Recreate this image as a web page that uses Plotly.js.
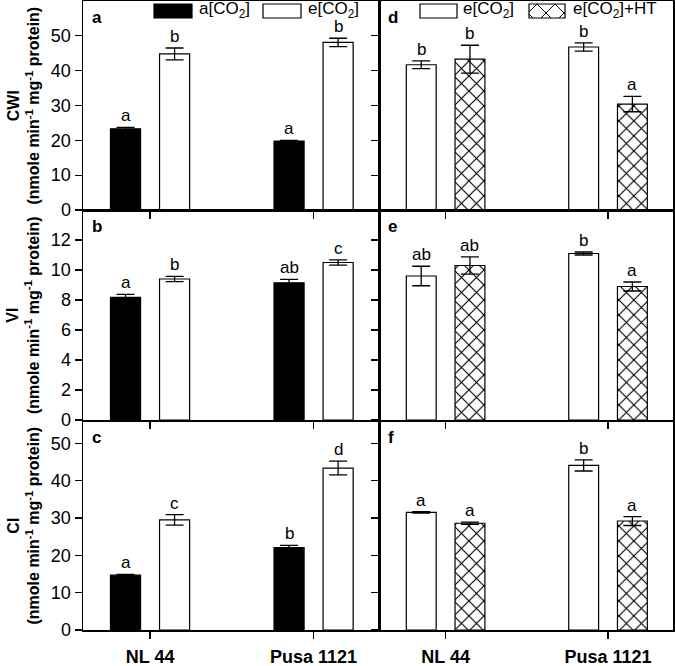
<!DOCTYPE html>
<html>
<head>
<meta charset="utf-8">
<script src="https://cdn.plot.ly/plotly-3.0.1.min.js"></script>
<style>html,body{margin:0;padding:0;background:#fff;}#chart{width:675px;height:666px;}</style>
</head>
<body>
<div id="chart"></div>
<script>
// ---------- data ----------
const categories = ['NL 44', 'Pusa 1121'];

// Left column: a[CO2] vs e[CO2]
const cwiAmb = [23.3, 19.8];   const cwiAmbErr = [0.4, 0.2];
const cwiEle = [44.8, 48.1];   const cwiEleErr = [1.7, 1.2];
const viAmb  = [8.18, 9.15];   const viAmbErr  = [0.2, 0.22];
const viEle  = [9.4, 10.5];    const viEleErr  = [0.17, 0.18];
const ciAmb  = [14.7, 22.1];   const ciAmbErr  = [0.2, 0.55];
const ciEle  = [29.5, 43.4];   const ciEleErr  = [1.4, 1.85];

// Right column: e[CO2] vs e[CO2]+HT
const cwiEle2 = [41.7, 46.8];  const cwiEle2Err = [1.1, 1.2];
const cwiHT   = [43.3, 30.4];  const cwiHTErr   = [4.0, 2.2];
const viEle2  = [9.6, 11.1];   const viEle2Err  = [0.65, 0.1];
const viHT    = [10.3, 8.9];   const viHTErr    = [0.58, 0.3];
const ciEle2  = [31.5, 44.1];  const ciEle2Err  = [0.2, 1.5];
const ciHT    = [28.6, 29.2];  const ciHTErr    = [0.3, 1.2];

// significance letters
const lettersA = [['a','a'], ['b','b']];
const lettersB = [['a','ab'], ['b','c']];
const lettersC = [['a','b'], ['c','d']];
const lettersD = [['b','b'], ['b','a']];
const lettersE = [['ab','b'], ['ab','a']];
const lettersF = [['a','b'], ['a','a']];

const panelLetters = ['a','d','b','e','c','f'];
const yTitles = ['CWI', 'VI', 'CI'];
const yRanges = [[0,60],[0,14],[0,56]];
const yTickVals = [[0,10,20,30,40,50], [0,2,4,6,8,10,12], [0,10,20,30,40,50]];

// ---------- geometry / styles ----------
const W = 675, H = 666;
const FONT = 'Liberation Sans, Arial, sans-serif';
const px = x => x / W;
const py = y => 1 - y / H;
const colDomains = [[px(83), px(379)], [px(379), px(673)]];
const rowDomains = [[py(210), py(1)], [py(420), py(210)], [py(630), py(421)]];
const BARGAP = 0.4;

const panels = [
  {row:0,col:0, s:[[cwiAmb,cwiAmbErr],[cwiEle,cwiEleErr]], kinds:['amb','ele'], L:lettersA},
  {row:0,col:1, s:[[cwiEle2,cwiEle2Err],[cwiHT,cwiHTErr]], kinds:['ele','ht'], L:lettersD},
  {row:1,col:0, s:[[viAmb,viAmbErr],[viEle,viEleErr]], kinds:['amb','ele'], L:lettersB},
  {row:1,col:1, s:[[viEle2,viEle2Err],[viHT,viHTErr]], kinds:['ele','ht'], L:lettersE},
  {row:2,col:0, s:[[ciAmb,ciAmbErr],[ciEle,ciEleErr]], kinds:['amb','ele'], L:lettersC},
  {row:2,col:1, s:[[ciEle2,ciEle2Err],[ciHT,ciHTErr]], kinds:['ele','ht'], L:lettersF},
];

const traces = [];
const annotations = [];
const layout = {
  width: W, height: H,
  margin: {l:0, r:0, t:0, b:0},
  paper_bgcolor: '#fff', plot_bgcolor: '#fff',
  showlegend: false,
  barmode: 'group', bargap: BARGAP, bargroupgap: 0.387,
  font: {family: FONT, color: '#000', size: 16},
  shapes: [],
};

function markerFor(kind) {
  if (kind === 'amb') return {color:'#000', line:{color:'#000', width:1.2}};
  if (kind === 'ele') return {color:'#fff', line:{color:'#000', width:1.2}};
  return {color:'#fff', line:{color:'#000', width:1.2},
          pattern:{shape:'x', size:10.6, solidity:0.2, fgcolor:'#000', bgcolor:'#fff', fillmode:'replace'}};
}

panels.forEach((p, i) => {
  const n = i + 1;
  const xa = n === 1 ? 'x' : 'x' + n;
  const ya = n === 1 ? 'y' : 'y' + n;
  const xk = n === 1 ? 'xaxis' : 'xaxis' + n;
  const yk = n === 1 ? 'yaxis' : 'yaxis' + n;
  const bottom = p.row === 2;
  const left = p.col === 0;
  layout[xk] = {
    domain: colDomains[p.col], anchor: ya, type: 'category',
    range: [-0.41, 1.40],
    showline: true, linecolor: '#000', linewidth: 1.5, mirror: true,
    ticks: 'outside', ticklen: 7, tickwidth: 1.3, tickcolor: '#000',
    showticklabels: bottom, showgrid: false, zeroline: false,
    tickfont: {family: FONT, size: 18, color: '#000', weight: 'bold'},
    ticklabelstandoff: 3,
  };
  layout[yk] = {
    domain: rowDomains[p.row], anchor: xa,
    range: yRanges[p.row], tickmode: 'array', tickvals: yTickVals[p.row],
    showline: true, linecolor: '#000', linewidth: 1.5, mirror: true,
    ticks: 'outside', ticklen: 7, tickwidth: 1.3, tickcolor: '#000',
    showticklabels: left, showgrid: false, zeroline: false,
    tickfont: {family: FONT, size: 18, color: '#000'},
  };
  p.s.forEach((ser, k) => {
    traces.push({
      type: 'bar', x: categories, y: ser[0], xaxis: xa, yaxis: ya,
      marker: markerFor(p.kinds[k]),
      error_y: {type:'data', array: ser[1], visible: true, color:'#000', thickness:1.3, width:9},
      hoverinfo: 'skip',
    });
    const off = (k - 0.5) * (1 - BARGAP) / 2;
    categories.forEach((c, ci) => {
      annotations.push({
        xref: xa, yref: ya, x: ci + off, y: ser[0][ci] + ser[1][ci],
        text: p.L[k][ci], showarrow: false, xanchor: 'center', yanchor: 'bottom',
        yshift: 0, font: {family: FONT, size: 17, color: '#000'},
      });
    });
  });
  // panel letter
  annotations.push({
    xref: 'paper', yref: 'paper',
    x: colDomains[p.col][0] + px(7), y: rowDomains[p.row][1] - (1 - py(5)),
    text: '<b>' + panelLetters[i] + '</b>', showarrow: false,
    xanchor: 'left', yanchor: 'top', font: {family: FONT, size: 17, color: '#000'},
  });
});

// y-axis titles
yTitles.forEach((t, r) => {
  annotations.push({
    xref: 'paper', yref: 'paper', x: px(23), y: (rowDomains[r][0] + rowDomains[r][1]) / 2,
    text: '<b>' + t + '</b><br><b>(nmole min<sup>-1</sup> mg<sup>-1</sup> protein)</b>',
    textangle: -90, showarrow: false, xanchor: 'center', yanchor: 'middle',
    font: {family: FONT, size: 16, color: '#000'},
  });
});

// legends (drawn as shapes + text)
function box(x0, x1, y0, y1, fill) {
  layout.shapes.push({type:'rect', xref:'paper', yref:'paper', x0:px(x0), x1:px(x1), y0:py(y1), y1:py(y0),
    fillcolor: fill, line:{color:'#000', width:1.2}});
}
function hatchBox(x0, x1, y0, y1, period) {
  const h = y1 - y0;
  let d = '';
  for (let c = x0 - 2 * h; c <= x1 + 2 * h; c += period) {
    let t0 = Math.max(0, (x0 - c) / h), t1 = Math.min(1, (x1 - c) / h);
    if (t1 > t0) d += `M${px(c + t0*h)},${py(y0 + t0*h)}L${px(c + t1*h)},${py(y0 + t1*h)}`;
    t0 = Math.max(0, (c - x1) / h); t1 = Math.min(1, (c - x0) / h);
    if (t1 > t0) d += `M${px(c - t0*h)},${py(y0 + t0*h)}L${px(c - t1*h)},${py(y0 + t1*h)}`;
  }
  layout.shapes.push({type:'path', xref:'paper', yref:'paper', path:d, line:{color:'#000', width:1}});
  box(x0, x1, y0, y1, 'rgba(0,0,0,0)');
}
function legText(x, y, txt) {
  annotations.push({xref:'paper', yref:'paper', x:px(x), y:py(y), text:txt, showarrow:false,
    xanchor:'left', yanchor:'middle', font:{family:FONT, size:17, color:'#000'}});
}
box(154, 192, 4, 18, '#000');
legText(197, 10, 'a[CO<sub>2</sub>]');
box(263, 301, 4, 18, '#fff');
legText(306, 10, 'e[CO<sub>2</sub>]');
box(420, 457, 4, 18, '#fff');
legText(461, 10, 'e[CO<sub>2</sub>]');
hatchBox(529, 565, 4, 18, 18);
legText(571, 10, 'e[CO<sub>2</sub>]+HT');

layout.annotations = annotations;

Plotly.newPlot('chart', traces, layout, {displayModeBar: false, staticPlot: true});
</script>
</body>
</html>
